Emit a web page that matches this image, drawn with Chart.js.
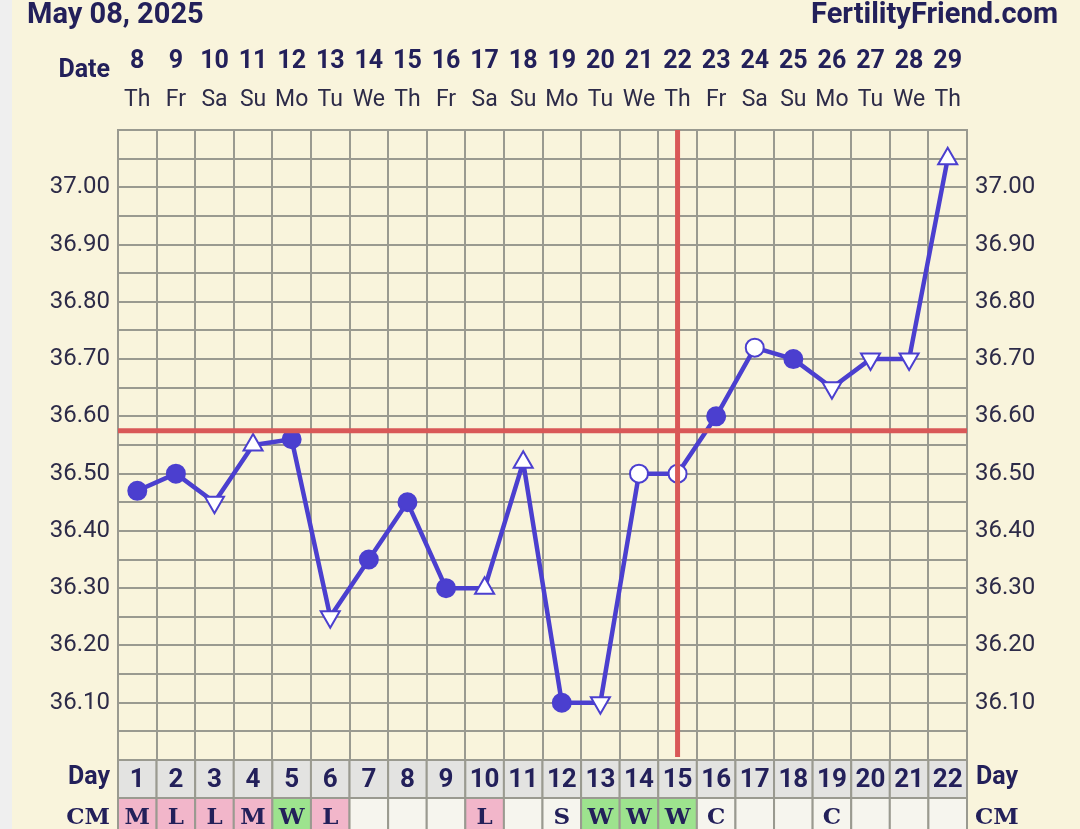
<!DOCTYPE html>
<html>
<head>
<meta charset="utf-8">
<script src="https://cdn.jsdelivr.net/npm/chart.js@4"></script>
<style>
  body { margin: 0; background: #f9f4dc; }
  #wrap { width: 1080px; height: 829px; }
</style>
</head>
<body>
<div id="wrap"><canvas id="bbt" width="1080" height="829"></canvas></div>
<script>
// chart data
var cycleDays = [1,2,3,4,5,6,7,8,9,10,11,12,13,14,15,16,17,18,19,20,21,22];
var dates = [8,9,10,11,12,13,14,15,16,17,18,19,20,21,22,23,24,25,26,27,28,29];
var weekdays = ["Th","Fr","Sa","Su","Mo","Tu","We","Th","Fr","Sa","Su","Mo","Tu","We","Th","Fr","Sa","Su","Mo","Tu","We","Th"];
var temps = [36.47,36.50,36.45,36.55,36.56,36.25,36.35,36.45,36.30,36.30,36.52,36.10,36.10,36.50,36.50,36.60,36.72,36.70,36.65,36.70,36.70,37.05];
// f = filled circle, o = open circle, u = open triangle up, d = open triangle down
var markers = ["f","f","d","u","f","d","f","f","f","u","u","f","d","o","o","f","o","f","d","d","d","u"];
var cm = ["M","L","L","M","W","L","","","","L","","S","W","W","W","C","","","C","","",""];
var coverline = 36.575;
var ovulationDay = 15;
var yMin = 36.0, yMax = 37.1, yStep = 0.05;

var NAVY = "#23205a";
var LINE = "#4b3fcf";
var RED = "#d95858";
var GRID = "#9a9a90";
var cmColor = { M: "#f2b6ca", L: "#f2b6ca", W: "#9de38e" };

var tickLabel = function (v) {
    var h = Math.round(v * 100);
    if (h % 10 !== 0 || h <= 3600 || h >= 3710) return "";
    return (h / 100).toFixed(2);
};

var bbtDecor = {
    id: "bbtDecor",
    beforeDraw: function (chart) {
        var ctx = chart.ctx;
        ctx.save();
        ctx.fillStyle = "#f9f4dc";
        ctx.fillRect(0, 0, chart.width, chart.height);
        ctx.fillStyle = "#efefef";
        ctx.fillRect(0, 0, 12, chart.height);
        ctx.restore();
    },
    afterDatasetsDraw: function (chart) {
        var ctx = chart.ctx, x = chart.scales.x, y = chart.scales.y, a = chart.chartArea;
        ctx.save();
        ctx.strokeStyle = RED;
        ctx.lineWidth = 5;
        ctx.beginPath();
        ctx.moveTo(a.left, y.getPixelForValue(coverline));
        ctx.lineTo(a.right, y.getPixelForValue(coverline));
        var vx = x.getPixelForValue(ovulationDay - 1);
        ctx.moveTo(vx, a.top);
        ctx.lineTo(vx, a.bottom - 3);
        ctx.stroke();
        ctx.restore();
    },
    afterDraw: function (chart) {
        var ctx = chart.ctx, x = chart.scales.x, a = chart.chartArea;
        var w = x.width / cycleDays.length;
        ctx.save();
        ctx.fillStyle = NAVY;
        ctx.textBaseline = "alphabetic";
        ctx.font = "bold 29px Roboto";
        ctx.textAlign = "left";
        ctx.fillText("May 08, 2025", 27, 23);
        ctx.textAlign = "right";
        ctx.fillText("FertilityFriend.com", 1058, 23);

        ctx.textBaseline = "middle";
        ctx.font = "bold 25px Roboto";
        ctx.fillText("Date", 110, 71);
        ctx.textAlign = "center";
        for (var i = 0; i < cycleDays.length; i++) {
            var cx = x.getPixelForValue(i);
            ctx.fillStyle = NAVY;
            ctx.font = "bold 25px Roboto";
            ctx.fillText(String(dates[i]), cx, 62);
            ctx.font = "23px Roboto";
            ctx.fillStyle = "#2d2b48";
            ctx.fillText(weekdays[i], cx, 100);
        }

        // Day and CM rows
        var dayTop = a.bottom, dayH = 38, cmTop = a.bottom + 38, cmH = 38;
        ctx.lineWidth = 2;
        ctx.strokeStyle = GRID;
        for (var j = 0; j < cycleDays.length; j++) {
            var cx2 = x.getPixelForValue(j), left = cx2 - w / 2;
            ctx.fillStyle = "#e3e3e1";
            ctx.fillRect(left, dayTop, w, dayH);
            ctx.strokeRect(left, dayTop, w, dayH);
            ctx.fillStyle = cmColor[cm[j]] || "#f6f5ee";
            ctx.fillRect(left, cmTop, w, cmH);
            ctx.strokeRect(left, cmTop, w, cmH);
            ctx.fillStyle = NAVY;
            ctx.font = "bold 26px Roboto";
            ctx.fillText(String(cycleDays[j]), cx2, dayTop + 20);
            if (cm[j]) {
                ctx.font = "bold 23px 'DejaVu Serif'";
                ctx.fillText(cm[j], cx2, cmTop + 20);
            }
        }
        ctx.fillStyle = NAVY;
        ctx.font = "bold 25px Roboto";
        ctx.textAlign = "right";
        ctx.fillText("Day", 110, dayTop + 18);
        ctx.textAlign = "left";
        ctx.fillText("Day", 976, dayTop + 18);
        ctx.font = "bold 23px 'DejaVu Serif'";
        ctx.textAlign = "right";
        ctx.fillText("CM", 110, cmTop + 20);
        ctx.textAlign = "left";
        ctx.fillText("CM", 975, cmTop + 20);
        ctx.restore();
    }
};

var yTicks = {
    stepSize: yStep,
    autoSkip: false,
    padding: 8,
    color: "#2d2b48",
    font: { family: "Roboto", size: 24 },
    callback: tickLabel
};

var bbtChart = new Chart(document.getElementById("bbt").getContext("2d"), {
    type: "line",
    data: {
        labels: cycleDays,
        datasets: [{
            data: temps,
            borderColor: LINE,
            borderWidth: 4.5,
            tension: 0,
            pointStyle: markers.map(function (m) { return (m === "u" || m === "d") ? "triangle" : "circle"; }),
            pointRotation: markers.map(function (m) { return m === "d" ? 180 : 0; }),
            pointRadius: markers.map(function (m) { return (m === "u" || m === "d") ? 11 : 9; }),
            pointBackgroundColor: markers.map(function (m) { return m === "f" ? LINE : "#ffffff"; }),
            pointBorderColor: LINE,
            pointBorderWidth: 2
        }]
    },
    options: {
        responsive: false,
        animation: false,
        layout: { padding: { left: 0, right: 0, top: 130, bottom: 69 } },
        plugins: { legend: { display: false }, tooltip: { enabled: false } },
        scales: {
            x: {
                type: "category",
                offset: true,
                grid: { offset: true, color: GRID, lineWidth: 2, drawTicks: false },
                border: { display: false },
                ticks: { display: false },
                afterFit: function (s) { s.height = 0; }
            },
            y: {
                position: "left",
                min: yMin,
                max: yMax,
                grid: { color: GRID, lineWidth: 2, drawTicks: false },
                border: { color: GRID, width: 2 },
                ticks: yTicks,
                afterFit: function (s) { s.width = 118; }
            },
            y2: {
                position: "right",
                min: yMin,
                max: yMax,
                grid: { display: false, drawTicks: false },
                border: { color: GRID, width: 2 },
                ticks: yTicks,
                afterFit: function (s) { s.width = 113; }
            }
        }
    },
    plugins: [bbtDecor]
});
</script>
</body>
</html>
